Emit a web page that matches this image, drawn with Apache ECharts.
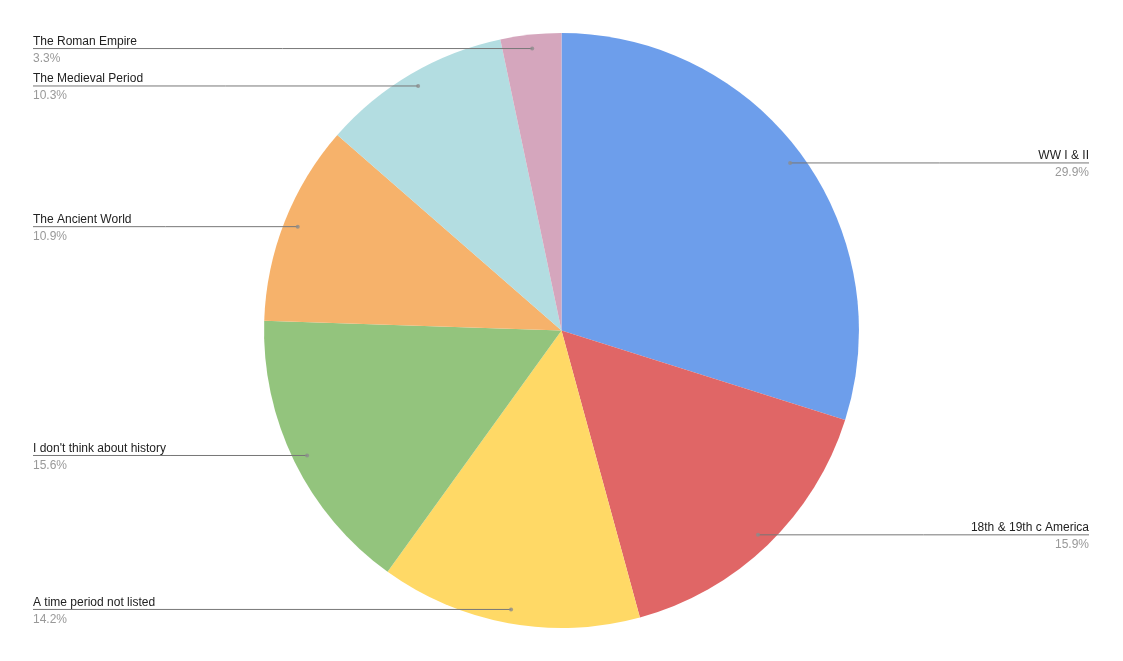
<!DOCTYPE html>
<html>
<head>
<meta charset="utf-8">
<script src="https://cdn.jsdelivr.net/npm/echarts@6/dist/echarts.min.js"></script>
<style>
html,body{margin:0;padding:0;background:#fff;}
#chart{width:1123px;height:661px;}
</style>
</head>
<body>
<div id="chart"></div>
<script>
const categories = ['WW I & II', '18th & 19th c America', 'A time period not listed', "I don't think about history", 'The Ancient World', 'The Medieval Period', 'The Roman Empire'];
const values = [29.9, 15.9, 14.2, 15.6, 10.9, 10.3, 3.3];
const colors = ['#6d9eeb', '#e06666', '#ffd966', '#93c47d', '#f6b26b', '#b3dde1', '#d5a6bd'];

const DOT_R = 0.953; // fraction of pie radius where leader dots sit
const total = values.reduce((a, b) => a + b, 0);
const dotData = [];
let cum = 0;
values.forEach(v => { dotData.push([DOT_R, cum + v / 2]); cum += v; });

const chart = echarts.init(document.getElementById('chart'), null, {renderer: 'canvas'});
const font = '"Liberation Sans", Arial, sans-serif';

const basePie = {
  type: 'pie',
  center: ['50%', '50%'],
  radius: '90%',
  startAngle: 90,
  clockwise: true,
  silent: true
};

chart.setOption({
  animation: false,
  backgroundColor: '#ffffff',
  polar: {center: ['50%', '50%'], radius: '90%'},
  angleAxis: {type: 'value', min: 0, max: total, startAngle: 90, clockwise: true, show: false},
  radiusAxis: {type: 'value', min: 0, max: 1, show: false},
  series: [
    Object.assign({}, basePie, {
      z: 1,
      data: categories.map((c, i) => ({name: c, value: values[i], itemStyle: {color: colors[i]}})),
      itemStyle: {borderWidth: 0},
      label: {show: false},
      labelLine: {show: false}
    }),
    Object.assign({}, basePie, {
      z: 3,
      data: categories.map((c, i) => ({name: c, value: values[i]})),
      itemStyle: {color: 'rgba(0,0,0,0)', borderWidth: 0},
      label: {
        show: true,
        formatter: p => '{n|' + p.name + '}\n{p|' + p.value.toFixed(1) + '%}',
        rich: {
          n: {fontSize: 12, color: '#222222', fontFamily: font, lineHeight: 17},
          p: {fontSize: 12, color: '#999999', fontFamily: font, lineHeight: 17}
        }
      },
      labelLine: {show: true, length: 5, length2: 5, lineStyle: {color: '#777777', width: 1}},
      labelLayout: function (params) {
        const W = chart.getWidth(), H = chart.getHeight();
        const cx = W / 2, cy = H / 2;
        const p0 = params.labelLinePoints[0];
        const dot = [cx + (p0[0] - cx) * DOT_R, cy + (p0[1] - cy) * DOT_R];
        const isLeft = dot[0] < cx;
        const ex = isLeft ? 33 : W - 34;
        return {
          x: ex,
          y: dot[1] + 1.5,
          align: isLeft ? 'left' : 'right',
          verticalAlign: 'middle',
          labelLinePoints: [dot, [(dot[0] + ex) / 2, dot[1]], [ex, dot[1]]]
        };
      }
    }),
    {
      type: 'scatter',
      coordinateSystem: 'polar',
      symbol: 'circle',
      symbolSize: 4,
      z: 5,
      itemStyle: {color: '#8c8c8c'},
      silent: true,
      data: dotData
    }
  ]
});
</script>
</body>
</html>
